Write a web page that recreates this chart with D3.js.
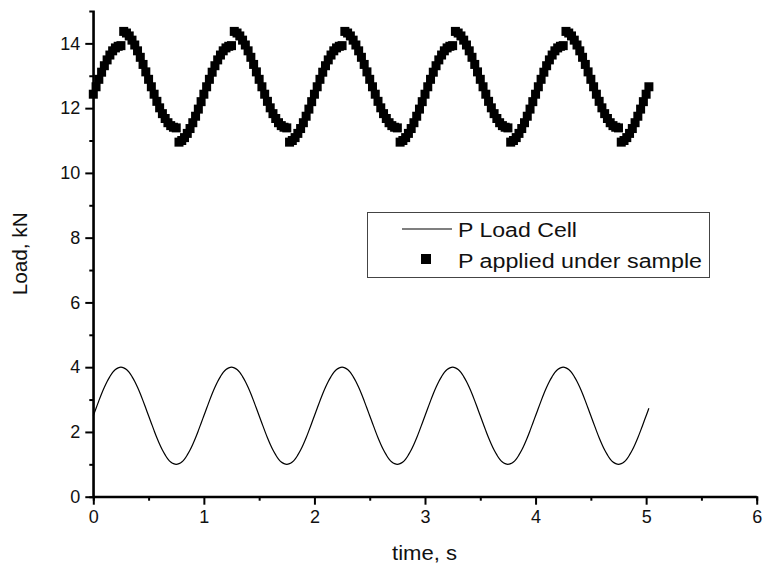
<!DOCTYPE html>
<html>
<head>
<meta charset="utf-8">
<script src="https://cdn.jsdelivr.net/npm/d3@7"></script>
<style>
  body { margin: 0; background: #fff; }
  svg { display: block; font-family: Arial, "Liberation Sans", sans-serif; }
</style>
</head>
<body>
<div class="chart-wrapper"></div>
<script>
// samples every 0.025 s
const sampleStart = 0
const sampleStep = 0.025

const loadCell = [
  2.50,2.73,2.96,3.18,3.38,3.56,3.71,3.84,3.93,3.98,4.00,3.98,3.93,3.84,3.71,3.56,3.38,3.18,2.96,2.73,2.50,2.27,2.04,1.82,1.62,1.44,1.29,1.16,1.07,1.02,1.00,1.02,1.07,1.16,1.29,1.44,1.62,1.82,2.04,2.27,
  2.50,2.73,2.96,3.18,3.38,3.56,3.71,3.84,3.93,3.98,4.00,3.98,3.93,3.84,3.71,3.56,3.38,3.18,2.96,2.73,2.50,2.27,2.04,1.82,1.62,1.44,1.29,1.16,1.07,1.02,1.00,1.02,1.07,1.16,1.29,1.44,1.62,1.82,2.04,2.27,
  2.50,2.73,2.96,3.18,3.38,3.56,3.71,3.84,3.93,3.98,4.00,3.98,3.93,3.84,3.71,3.56,3.38,3.18,2.96,2.73,2.50,2.27,2.04,1.82,1.62,1.44,1.29,1.16,1.07,1.02,1.00,1.02,1.07,1.16,1.29,1.44,1.62,1.82,2.04,2.27,
  2.50,2.73,2.96,3.18,3.38,3.56,3.71,3.84,3.93,3.98,4.00,3.98,3.93,3.84,3.71,3.56,3.38,3.18,2.96,2.73,2.50,2.27,2.04,1.82,1.62,1.44,1.29,1.16,1.07,1.02,1.00,1.02,1.07,1.16,1.29,1.44,1.62,1.82,2.04,2.27,
  2.50,2.73,2.96,3.18,3.38,3.56,3.71,3.84,3.93,3.98,4.00,3.98,3.93,3.84,3.71,3.56,3.38,3.18,2.96,2.73,2.50,2.27,2.04,1.82,1.62,1.44,1.29,1.16,1.07,1.02,1.00,1.02,1.07,1.16,1.29,1.44,1.62,1.82,2.04,2.27,
  2.50,2.73
]

const appliedLoad = [
  12.43,12.66,12.89,13.11,13.31,13.49,13.64,13.77,13.86,13.91,13.93,14.37,14.32,14.23,14.10,13.95,13.77,13.57,13.35,13.12,12.89,12.66,12.43,12.21,12.01,11.83,11.68,11.55,11.46,11.41,11.39,10.95,11.00,11.09,11.22,11.37,11.55,11.75,11.97,12.20,
  12.43,12.66,12.89,13.11,13.31,13.49,13.64,13.77,13.86,13.91,13.93,14.37,14.32,14.23,14.10,13.95,13.77,13.57,13.35,13.12,12.89,12.66,12.43,12.21,12.01,11.83,11.68,11.55,11.46,11.41,11.39,10.95,11.00,11.09,11.22,11.37,11.55,11.75,11.97,12.20,
  12.43,12.66,12.89,13.11,13.31,13.49,13.64,13.77,13.86,13.91,13.93,14.37,14.32,14.23,14.10,13.95,13.77,13.57,13.35,13.12,12.89,12.66,12.43,12.21,12.01,11.83,11.68,11.55,11.46,11.41,11.39,10.95,11.00,11.09,11.22,11.37,11.55,11.75,11.97,12.20,
  12.43,12.66,12.89,13.11,13.31,13.49,13.64,13.77,13.86,13.91,13.93,14.37,14.32,14.23,14.10,13.95,13.77,13.57,13.35,13.12,12.89,12.66,12.43,12.21,12.01,11.83,11.68,11.55,11.46,11.41,11.39,10.95,11.00,11.09,11.22,11.37,11.55,11.75,11.97,12.20,
  12.43,12.66,12.89,13.11,13.31,13.49,13.64,13.77,13.86,13.91,13.93,14.37,14.32,14.23,14.10,13.95,13.77,13.57,13.35,13.12,12.89,12.66,12.43,12.21,12.01,11.83,11.68,11.55,11.46,11.41,11.39,10.95,11.00,11.09,11.22,11.37,11.55,11.75,11.97,12.20,
  12.43,12.66
]

const xTicks = [0, 1, 2, 3, 4, 5, 6]
const yTicks = [0, 2, 4, 6, 8, 10, 12, 14]
const legendLabels = ['P Load Cell', 'P applied under sample']

const width = 765
const height = 571

const svg = d3.select('.chart-wrapper')
.append('svg')
.attr('width', width)
.attr('height', height)

let x = d3.scaleLinear()
.domain([0, 6])
.range([93.3, 756.7])

let y = d3.scaleLinear()
.domain([0, 15])
.range([496.7, 11])

const tval = (d, i) => sampleStart + i * sampleStep

// axes
const xAxis = svg.append('g')
.attr('transform', `translate(0,${y(0)})`)
.call(d3.axisBottom(x).tickValues(xTicks).tickSize(8).tickPadding(6).tickFormat(d3.format('d')))

svg.append('g')
.attr('transform', `translate(0,${y(0)})`)
.call(d3.axisBottom(x).tickValues(d3.range(0.5, 6, 1)).tickSize(4).tickFormat(''))

const yAxis = svg.append('g')
.attr('transform', `translate(${x(0)},0)`)
.call(d3.axisLeft(y).tickValues(yTicks).tickSize(8).tickPadding(5).tickFormat(d3.format('d')))

svg.append('g')
.attr('transform', `translate(${x(0)},0)`)
.call(d3.axisLeft(y).tickValues(d3.range(1, 15, 2)).tickSize(4).tickFormat(''))

svg.selectAll('.domain').attr('stroke', '#000').attr('stroke-width', 2)
svg.selectAll('.tick line').attr('stroke', '#000').attr('stroke-width', 2)
svg.selectAll('.tick text').attr('fill', '#111').style('font-size', '18px')
xAxis.select('.domain').attr('d', `M${x(0)},0H${x(6)}`)
yAxis.select('.domain').attr('d', `M0,${y(15)}V${y(0)}`)

// series
svg.append('path')
.datum(loadCell)
.attr('d', d3.line().x((d, i) => x(tval(d, i))).y(d => y(d)).curve(d3.curveCatmullRom))
.attr('fill', 'none')
.attr('stroke', '#000')
.attr('stroke-width', 1.2)

const sq = 9
svg.append('g')
.selectAll('rect')
.data(appliedLoad)
.enter()
.append('rect')
.attr('x', (d, i) => x(tval(d, i)) - sq / 2)
.attr('y', d => y(d) - sq / 2)
.attr('width', sq)
.attr('height', sq)
.attr('fill', '#000')

// axis titles
svg.append('text')
.attr('x', 424.5)
.attr('y', 560)
.attr('text-anchor', 'middle')
.attr('textLength', 65)
.attr('lengthAdjust', 'spacingAndGlyphs')
.style('font-size', '20px')
.attr('fill', '#111')
.text('time, s')

svg.append('text')
.attr('transform', `translate(27,${y(7.5)}) rotate(-90)`)
.attr('text-anchor', 'middle')
.attr('textLength', 83)
.attr('lengthAdjust', 'spacingAndGlyphs')
.style('font-size', '20px')
.attr('fill', '#111')
.text('Load, kN')

// legend
const legend = svg.append('g')

legend.append('rect')
.attr('x', 367.5)
.attr('y', 212.5)
.attr('width', 342)
.attr('height', 65)
.attr('fill', '#fff')
.attr('stroke', '#444')
.attr('stroke-width', 1)

legend.append('line')
.attr('x1', 402).attr('x2', 452)
.attr('y1', 229).attr('y2', 229)
.attr('stroke', '#000')
.attr('stroke-width', 1.2)

legend.append('rect')
.attr('x', 421).attr('y', 254)
.attr('width', 10).attr('height', 10)
.attr('fill', '#000')

legend.selectAll('text')
.data(legendLabels)
.enter()
.append('text')
.attr('x', 458)
.attr('y', (d, i) => 237 + i * 31)
.attr('textLength', (d, i) => [119, 244][i])
.attr('lengthAdjust', 'spacingAndGlyphs')
.style('font-size', '20px')
.attr('fill', '#111')
.text(d => d)
</script>
</body>
</html>
